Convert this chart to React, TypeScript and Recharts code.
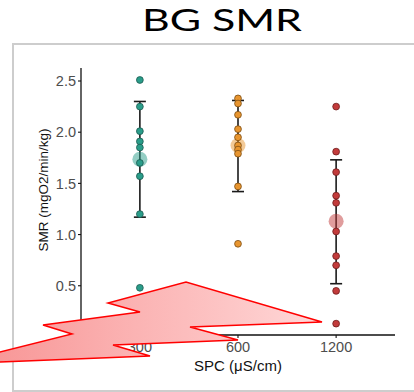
import React from 'react';
import { ScatterChart, Scatter, XAxis, YAxis, ErrorBar, Customized } from 'recharts';

const categories = ['300', '600', '1200'];
const categoryPos = [1, 2, 3];
const smr300 = [2.51, 2.25, 2.01, 1.91, 1.85, 1.70, 1.57, 1.20, 0.48];
const smr600 = [2.33, 2.28, 2.17, 2.03, 1.95, 1.87, 1.83, 1.79, 1.47, 0.91];
const smr1200 = [2.25, 1.81, 1.61, 1.38, 1.31, 1.03, 0.79, 0.70, 0.45, 0.13];
const meanSMR = [1.735, 1.87, 1.13];
const ciLow = [1.17, 1.42, 0.52];
const ciHigh = [2.30, 2.31, 1.73];
const yTicks = [0.5, 1.0, 1.5, 2.0, 2.5];

const fills = ['#2A9D8A', '#E8952F', '#C23B3B'];
const strokes = ['#1c5a50', '#7a4b12', '#6e1d1d'];

const groups = [smr300, smr600, smr1200];
const pointData = groups.map((vals, i) => vals.map((v) => ({ x: categoryPos[i], y: v })));
const meanData = meanSMR.map((m, i) => [{ x: categoryPos[i], y: m, err: [m - ciLow[i], ciHigh[i] - m] }]);

const FONT = '"Liberation Sans", Arial, sans-serif';

const AxisTitles = () => (
  <g fontFamily={FONT}>
    <text x={43} y={190} transform="rotate(-90 43 190)" textAnchor="middle" dominantBaseline="central" fontSize={13.5} fill="#111">
      SMR (mgO2/min/kg)
    </text>
    <text x={238} y={371} textAnchor="middle" fontSize={15} fill="#111">
      SPC (μS/cm)
    </text>
  </g>
);

export default function App() {
  return (
    <div style={{ position: 'absolute', left: 0, top: 0, width: 414, height: 392, overflow: 'hidden', background: '#fff' }}>
      <div style={{ position: 'absolute', left: 12, top: 43, width: 420, height: 345, border: '2px solid #cdcdcd' }} />
      <div style={{ position: 'absolute', left: 0, top: 0 }}>
        <ScatterChart width={414} height={392} margin={{ top: 68, right: 19, bottom: 27, left: 0 }}>
          <XAxis
            type="number"
            dataKey="x"
            domain={[0.4, 3.6]}
            ticks={categoryPos}
            tickFormatter={(v: number) => categories[v - 1]}
            allowDataOverflow
            height={30}
            axisLine={{ stroke: '#111', strokeWidth: 1.3 }}
            tickLine={{ stroke: '#111', strokeWidth: 1.1 }}
            tickSize={3}
            tickMargin={4}
            tick={{ fill: '#4d4d4d', fontSize: 14.5, fontFamily: FONT }}
          />
          <YAxis
            type="number"
            dataKey="y"
            domain={[0.019, 2.627]}
            ticks={yTicks}
            tickFormatter={(v: number) => v.toFixed(1)}
            allowDataOverflow
            width={81}
            axisLine={{ stroke: '#111', strokeWidth: 1.3 }}
            tickLine={{ stroke: '#111', strokeWidth: 1.1 }}
            tickSize={3}
            tickMargin={2}
            tick={{ fill: '#4d4d4d', fontSize: 14.5, fontFamily: FONT }}
          />
          {meanData.map((d, i) => (
            <Scatter
              key={'m' + i}
              data={d}
              isAnimationActive={false}
              shape={(p: any) => <circle cx={p.cx} cy={p.cy} r={7.5} fill={fills[i]} fillOpacity={0.5} />}
            >
              <ErrorBar dataKey="err" direction="y" width={6} stroke="#1a1a1a" strokeWidth={1.6} />
            </Scatter>
          ))}
          {pointData.map((d, i) => (
            <Scatter
              key={'p' + i}
              data={d}
              isAnimationActive={false}
              shape={(p: any) => <circle cx={p.cx} cy={p.cy} r={3.4} fill={fills[i]} stroke={strokes[i]} strokeWidth={0.8} />}
            />
          ))}
          <Customized component={AxisTitles} />
        </ScatterChart>
      </div>
      <svg width={414} height={392} style={{ position: 'absolute', left: 0, top: 0 }}>
        <defs>
          <linearGradient id="boltGrad" x1="0" y1="0" x2="1" y2="0">
            <stop offset="0%" stopColor="#f78f8f" />
            <stop offset="100%" stopColor="#ffd8d8" />
          </linearGradient>
        </defs>
        <text x={222} y={31} textAnchor="middle" fontSize={31} fontFamily="Lato, 'Open Sans', sans-serif" fill="#000" textLength={160} lengthAdjust="spacingAndGlyphs">
          BG SMR
        </text>
        <polygon
          points="-48,364 72,334 43,325 140,312 108,303 186,282 322,322 190,327 238,340 113,345 150,356"
          fill="url(#boltGrad)"
          stroke="#ff0000"
          strokeWidth={1.5}
          strokeLinejoin="miter"
        />
      </svg>
    </div>
  );
}
